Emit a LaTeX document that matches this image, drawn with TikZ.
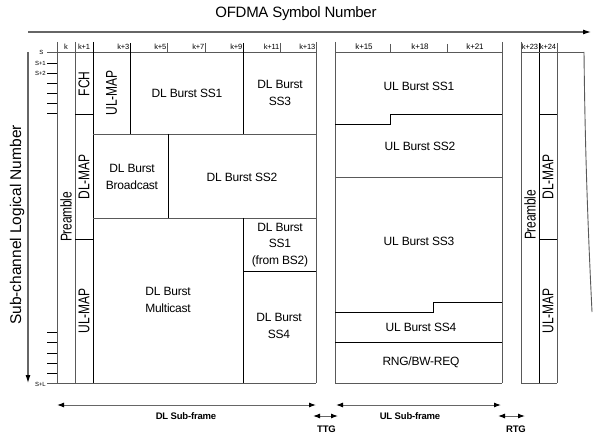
\documentclass[tikz,border=0pt]{standalone}
\usepackage{fontspec}
\setmainfont[LetterSpace=-2]{Liberation Sans}
\newfontfamily\axisfont{Liberation Sans}
\usetikzlibrary{arrows.meta}
\begin{document}
\begin{tikzpicture}[x=1pt,y=-1pt,
  frame/.style={draw=black!65, line width=0.9pt},
  inner/.style={draw=black, line width=0.7pt},
  tickl/.style={draw=black!65, line width=0.7pt},
  lbl/.style={align=center, font=\fontsize{12}{16.5}\selectfont, inner sep=0},
  rlbl/.style={rotate=90, inner sep=0, font=\fontsize{12}{14}\selectfont},
  hdr/.style={font=\fontsize{7.5}{8}\selectfont, inner sep=0},
  rowl/.style={font=\fontsize{6}{7}\selectfont, inner sep=0, anchor=east},
  axisline/.style={draw=black!60, line width=1.1pt, -{Latex[length=8pt,width=5pt,black]}},
  dimline/.style={draw=black!60, line width=1pt, {Latex[length=7pt,width=5pt,black]}-{Latex[length=7pt,width=5pt,black]}},
  blbl/.style={font=\bfseries\fontsize{9.5}{10}\selectfont, inner sep=0},
]
\useasboundingbox (0,0) rectangle (593,435);

% axes
\node[font=\fontsize{15}{17}\selectfont, inner sep=0] (title) at (296,14) {OFDMA Symbol Number};
\node[font=\axisfont\fontsize{15.5}{17}\selectfont, inner sep=0, rotate=90] (ylab) at (17,225) {Sub-channel Logical Number};
\coordinate (ax0) at (28,32);
\coordinate (ax1) at (591,32);
\coordinate (ay0) at (28,52);
\coordinate (ay1) at (28,383);
\draw[axisline] (ax0) -- (ax1);
\draw[axisline] (ay0) -- (ay1);

% ---------------- DL frame ----------------
\draw[frame] (47,52) -- (316,52);
\draw[frame] (47,383) -- (316,383);
\foreach \x in {57,75,316} \draw[frame] (\x,42) -- (\x,383);
\draw[inner] (93,42) -- (93,383);
\foreach \x in {167,205,280} \draw[tickl] (\x,43) -- (\x,52);
\draw[inner] (130,43) -- (130,134);
\draw[inner] (243,43) -- (243,134);
\draw[inner] (75,114) -- (93,114);
\draw[inner] (75,239) -- (93,239);
\draw[frame] (93,134) -- (316,134);
\draw[inner] (168,134) -- (168,218);
\draw[frame] (93,218) -- (316,218);
\draw[inner] (243,218) -- (243,383);
\draw[inner] (243,271) -- (316,271);

% row ticks
\foreach \y in {63,73,83,93,103,113,332,342,353,363,373} \draw[inner] (47,\y) -- (57,\y);
\node[rowl] (rS) at (43.5,52) {S};
\node[rowl] (rS1) at (46,63) {S+1};
\node[rowl] (rS2) at (46,73) {S+2};
\node[rowl] (rSL) at (46,384) {S+L};

% column headers DL
\node[hdr] (hk) at (66,46.5) {k};
\node[hdr] (hk1) at (84,46.5) {k+1};
\node[hdr, anchor=east] (hk3) at (129.5,46.5) {k+3};
\node[hdr, anchor=east] (hk5) at (166.5,46.5) {k+5};
\node[hdr, anchor=east] (hk7) at (204.5,46.5) {k+7};
\node[hdr, anchor=east] (hk9) at (242.5,46.5) {k+9};
\node[hdr, anchor=east] (hk11) at (279.5,46.5) {k+11};
\node[hdr, anchor=east] (hk13) at (315.5,46.5) {k+13};

% DL labels
\node[rlbl] (pre1) at (66,217) {\scalebox{1}[1.3]{Preamble}};
\node[rlbl] (fch) at (84,84) {\scalebox{1}[1.3]{FCH}};
\node[rlbl] (dlmap1) at (84,177) {\scalebox{1}[1.3]{DL-MAP}};
\node[rlbl] (ulmap1) at (84,311) {\scalebox{1}[1.3]{UL-MAP}};
\node[rlbl] (ulmap0) at (111.5,93) {\scalebox{1}[1.3]{UL-MAP}};
\node[lbl] (dss1) at (187,93) {DL Burst SS1};
\node[lbl] (dss3) at (280,93) {DL Burst\\SS3};
\node[lbl] (dbc) at (132,177) {DL Burst\\Broadcast};
\node[lbl] (dss2) at (242,177) {DL Burst SS2};
\node[lbl] (dss1b) at (280,245) {DL Burst\\SS1\\(from BS2)};
\node[lbl] (dmc) at (168,300) {DL Burst\\Multicast};
\node[lbl] (dss4) at (279,326) {DL Burst\\SS4};

% ---------------- UL frame ----------------
\draw[frame] (335,42) -- (335,383);
\draw[frame] (502,42) -- (502,383);
\draw[frame] (335,52) -- (502,52);
\draw[frame] (335,383) -- (502,383);
\foreach \x in {390,447} \draw[tickl] (\x,44) -- (\x,52);
\draw[inner] (335,124) -- (390,124) -- (390,114) -- (502,114);
\draw[frame] (335,177) -- (502,177);
\draw[inner] (335,312) -- (433,312) -- (433,302) -- (502,302);
\draw[inner] (335,342) -- (502,342);

\node[hdr, font=\fontsize{8}{9}\selectfont] (hk15) at (364,46.5) {k+15};
\node[hdr, font=\fontsize{8}{9}\selectfont] (hk18) at (420,46.5) {k+18};
\node[hdr, font=\fontsize{8}{9}\selectfont] (hk21) at (475,46.5) {k+21};

\node[lbl] (uss1) at (419,86) {UL Burst SS1};
\node[lbl] (uss2) at (420,146) {UL Burst SS2};
\node[lbl] (uss3) at (419,241) {UL Burst SS3};
\node[lbl] (uss4) at (421,327) {UL Burst SS4};
\node[lbl] (rng) at (421,362) {RNG/BW-REQ};

% ---------------- next frame ----------------
\draw[frame] (521,42) -- (521,383);
\draw[inner] (539,43) -- (539,383);
\draw[frame] (557,43) -- (557,383);
\draw[frame] (521,52) -- (584,52);
\draw[frame] (521,383) -- (557,383);
\draw[inner] (539,114) -- (557,114);
\draw[inner] (539,239) -- (557,239);
\draw[frame] (584,52) .. controls (585,150) and (588,230) .. (592,312);
\node[hdr] (hk23) at (530,46.5) {k+23};
\node[hdr] (hk24) at (548,46.5) {k+24};
\node[rlbl] (pre2) at (530,215) {\scalebox{1}[1.3]{Preamble}};
\node[rlbl] (dlmap2) at (548,177) {\scalebox{1}[1.3]{DL-MAP}};
\node[rlbl] (ulmap2) at (548,311) {\scalebox{1}[1.3]{UL-MAP}};

% ---------------- bottom dimensions ----------------
\coordinate (dl0) at (57,405);
\coordinate (dl1) at (316,405);
\coordinate (ttg0) at (313,416);
\coordinate (ttg1) at (338,416);
\coordinate (ul0) at (336,405);
\coordinate (ul1) at (501,405);
\coordinate (rtg0) at (498,416);
\coordinate (rtg1) at (525,416);
\draw[dimline] (dl0) -- (dl1);
\draw[dimline] (ttg0) -- (ttg1);
\draw[dimline] (ul0) -- (ul1);
\draw[dimline] (rtg0) -- (rtg1);
\node[blbl] (dlsf) at (186,416.5) {DL Sub-frame};
\node[blbl] (ttg) at (326.5,429) {TTG};
\node[blbl] (ulsf) at (410,416.5) {UL Sub-frame};
\node[blbl] (rtg) at (516,429) {RTG};
\end{tikzpicture}
\end{document}
